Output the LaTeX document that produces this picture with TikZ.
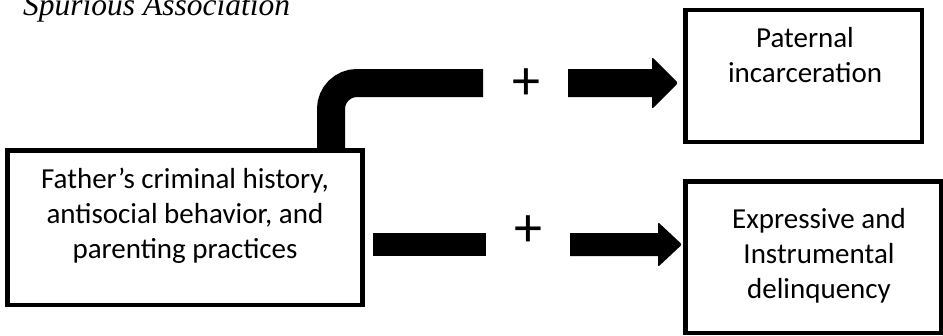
\documentclass[tikz,border=0pt]{standalone}
\usepackage{fontspec}
\setmainfont{Carlito}
\newfontfamily\titlefont{Liberation Serif}
\usetikzlibrary{calc}
\tikzset{
  boxline/.style={draw=black, line width=4.5pt, fill=none},
  txt/.style={anchor=base, inner sep=0pt, font=\fontsize{29pt}{35pt}\selectfont},
  plustxt/.style={anchor=base, inner sep=0pt, font=\fontsize{56pt}{60pt}\selectfont},
  bigbar/.style={line width=28pt, line cap=butt},
  smallbar/.style={line width=23pt, line cap=butt},
}
\newcommand\fatarrow[5]{%
  \fill ($(#1)+(0,#3)$) -- ($(#2)+(-#4,#3)$) [rounded corners=2pt] -- ($(#2)+(-#4,#5)$) -- (#2) -- ($(#2)+(-#4,-#5)$) [sharp corners] -- ($(#2)+(-#4,-#3)$) -- ($(#1)+(0,-#3)$) -- cycle;}
\begin{document}
\begin{tikzpicture}[x=1pt,y=-1pt]
\useasboundingbox (0,0) rectangle (943,335);
% title (cut at top edge)
\node[anchor=base west, inner sep=0pt, font=\titlefont\itshape\fontsize{31.5pt}{38pt}\selectfont] (title) at (23,15) {Spurious Association};
% boxes
\node[boxline, rectangle, inner sep=0pt, minimum width=355pt, minimum height=154.5pt] (father) at (185,227.75) {};
\node[boxline, rectangle, inner sep=0pt, minimum width=236.5pt, minimum height=132pt] (paternal) at (803.75,76) {};
\node[boxline, rectangle, inner sep=0pt, minimum width=255.5pt, minimum height=151.5pt] (delinq) at (813.25,257.25) {};
% texts
\node[txt] (f1) at (185,188) {Father’s criminal history,};
\node[txt] (f2) at (185,223) {antisocial behavior, and};
\node[txt] (f3) at (185,258) {parenting practices};
\node[txt] (p1) at (805,47) {Paternal};
\node[txt] (p2) at (805,82) {incarceration};
\node[txt] (d1) at (819,228) {Expressive and};
\node[txt] (d2) at (819,263) {Instrumental};
\node[txt] (d3) at (819,298) {delinquency};
% plus signs
\node[plustxt] (plusA) at (526,99.7) {+};
\node[plustxt] (plusB) at (528.5,246.2) {+};
% connector coordinates
\coordinate (a0) at (331,151);
\coordinate (a1) at (483,83);
\coordinate (a2) at (568,83);
\coordinate (a3) at (678,83);
\coordinate (b0) at (373,244.5);
\coordinate (b1) at (486,244.5);
\coordinate (b2) at (570,244.5);
\coordinate (b3) at (682,244.5);
% upper connector
\draw[bigbar, rounded corners=26pt] (a0) |- (a1);
\fatarrow{a2}{a3}{14}{26}{26}
% lower connector
\draw[smallbar] (b0) -- (b1);
\fatarrow{b2}{b3}{11.5}{24}{22.5}
\end{tikzpicture}
\end{document}
